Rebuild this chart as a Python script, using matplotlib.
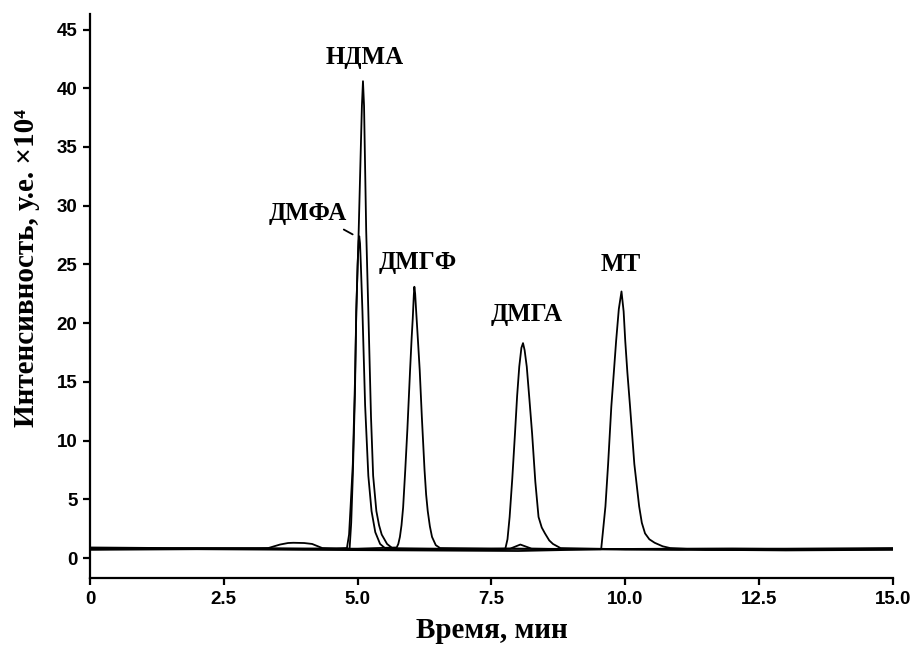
import matplotlib.pyplot as plt

# Хроматограммы: время (мин) и интенсивность (у.е. x10^4) для каждого вещества
dmfa_t = [0, 1.5, 3.0, 4.0, 4.6, 4.80, 4.84, 4.87, 4.91, 4.95, 4.975, 5.00, 5.02, 5.03, 5.045,
          5.06, 5.09, 5.14, 5.20, 5.26, 5.33, 5.42, 5.51, 6.5, 8.0, 10.0, 12.0, 13.5, 15.0]
dmfa_v = [0.90, 0.85, 0.85, 0.80, 0.80, 0.85, 2.0, 4.5, 8.0, 15.0, 21.0, 25.0, 27.0, 27.4, 26.8,
          25.0, 21.0, 13.0, 7.0, 4.0, 2.2, 1.2, 0.85, 0.80, 0.80, 0.75, 0.80, 0.75, 0.80]

ndma_t = [0, 2.0, 4.0, 4.85, 4.88, 4.91, 4.95, 4.975, 5.02, 5.06, 5.08, 5.10, 5.12, 5.16,
          5.20, 5.25, 5.29, 5.35, 5.40, 5.45, 5.55, 5.66, 6.0, 7.5, 7.85, 8.04, 8.25, 9.0,
          11.0, 13.0, 15.0]
ndma_v = [0.80, 0.80, 0.75, 0.80, 3.0, 7.0, 14.0, 21.0, 27.9, 35.0, 38.5, 40.6, 38.5, 27.9,
          21.0, 12.0, 7.0, 4.0, 2.8, 2.0, 1.2, 0.80, 0.70, 0.75, 0.80, 1.15, 0.80, 0.75,
          0.70, 0.75, 0.75]

dmgf_t = [0, 2.5, 5.0, 5.73, 5.76, 5.79, 5.82, 5.85, 5.89, 5.93, 5.98, 6.01, 6.03, 6.05,
          6.06, 6.075, 6.09, 6.11, 6.13, 6.16, 6.20, 6.25, 6.28, 6.31, 6.35, 6.39, 6.46,
          6.54, 7.5, 9.0, 11.0, 13.0, 15.0]
dmgf_v = [0.85, 0.80, 0.80, 0.90, 1.2, 1.8, 2.8, 4.3, 7.5, 11.0, 16.0, 18.8, 20.4, 22.4,
          23.1, 22.5, 21.3, 19.8, 18.3, 16.0, 12.0, 7.5, 5.4, 4.0, 2.7, 1.8, 1.1,
          0.85, 0.80, 0.75, 0.80, 0.80, 0.85]

dmga_t = [0, 1.5, 3.0, 3.33, 3.55, 3.70, 3.80, 4.00, 4.15, 4.34, 5.0, 6.5, 7.76, 7.80,
          7.84, 7.89, 7.94, 7.98, 8.02, 8.06, 8.09, 8.12, 8.16, 8.21, 8.26, 8.32, 8.38,
          8.44, 8.50, 8.58, 8.65, 8.79, 10.0, 12.0, 15.0]
dmga_v = [0.75, 0.80, 0.80, 0.85, 1.15, 1.28, 1.30, 1.28, 1.20, 0.85, 0.75, 0.70, 0.80, 1.6,
          3.5, 6.8, 10.6, 13.8, 16.3, 17.9, 18.3, 17.7, 16.3, 13.5, 10.6, 6.5, 3.5,
          2.6, 2.1, 1.5, 1.2, 0.85, 0.75, 0.70, 0.75]

mt_t = [0, 2.0, 4.0, 6.0, 8.0, 9.55, 9.58, 9.63, 9.68, 9.74, 9.79, 9.83, 9.88, 9.93, 9.97,
        10.00, 10.04, 10.09, 10.17, 10.26, 10.31, 10.37, 10.45, 10.55, 10.70, 10.84, 11.5,
        13.0, 15.0]
mt_v = [0.70, 0.75, 0.70, 0.65, 0.60, 0.75, 2.1, 4.4, 8.0, 12.9, 16.0, 18.5, 21.2, 22.7, 21.0,
        18.5, 15.8, 12.9, 8.0, 4.4, 3.0, 2.1, 1.6, 1.3, 1.0, 0.85, 0.70,
        0.65, 0.70]

traces = [(dmfa_t, dmfa_v), (ndma_t, ndma_v), (dmgf_t, dmgf_v), (dmga_t, dmga_v), (mt_t, mt_v)]

# Подписи пиков: текст, положение подписи (мин, у.е.)
peak_names = ['НДМА', 'ДМФА', 'ДМГФ', 'ДМГА', 'МТ']
label_t = [5.14, 4.06, 6.13, 8.15, 9.92]
label_v = [42.6, 29.3, 25.2, 20.7, 25.0]

x_ticks = [0, 2.5, 5.0, 7.5, 10.0, 12.5, 15.0]
x_tick_labels = ['0', '2.5', '5.0', '7.5', '10.0', '12.5', '15.0']
y_ticks = [0, 5, 10, 15, 20, 25, 30, 35, 40, 45]

serif = ['Liberation Serif', 'DejaVu Serif']

fig = plt.figure(figsize=(9.12, 6.48), dpi=100)
ax = fig.add_axes([0.0987, 0.108, 0.8803, 0.870])

for t, v in traces:
    ax.plot(t, v, color='black', linewidth=1.3)

for name, tx, vy in zip(peak_names, label_t, label_v):
    if name == 'ДМФА':
        ax.annotate(name, xy=(4.93, 27.5), xytext=(tx, vy), ha='center', va='center',
                    fontsize=18, fontweight='bold', family=serif,
                    arrowprops=dict(arrowstyle='-', color='black', lw=1.3,
                                    relpos=(0.87, 0.0), shrinkA=2, shrinkB=1))
    else:
        ax.text(tx, vy, name, ha='center', va='center', fontsize=18,
                fontweight='bold', family=serif)

ax.set_xlim(0, 15)
ax.set_ylim(-1.7, 46.3)
ax.set_xticks(x_ticks)
ax.set_xticklabels(x_tick_labels)
ax.set_yticks(y_ticks)

for lbl in ax.get_xticklabels() + ax.get_yticklabels():
    lbl.set_fontfamily('Liberation Sans')
    lbl.set_fontweight('bold')
    lbl.set_fontsize(13.5)

ax.spines['top'].set_visible(False)
ax.spines['right'].set_visible(False)
ax.spines['left'].set_linewidth(1.6)
ax.spines['bottom'].set_linewidth(1.6)
ax.tick_params(direction='out', length=5, width=1.6, pad=4)

ax.set_xlabel('Время, мин', fontsize=21, fontweight='bold', family=serif, labelpad=7)
ax.set_ylabel('Интенсивность, у.е. ×10⁴', fontsize=21, fontweight='bold', family=serif)
ax.yaxis.set_label_coords(-0.062, 0.55)

fig.savefig('out.png', dpi=100)
